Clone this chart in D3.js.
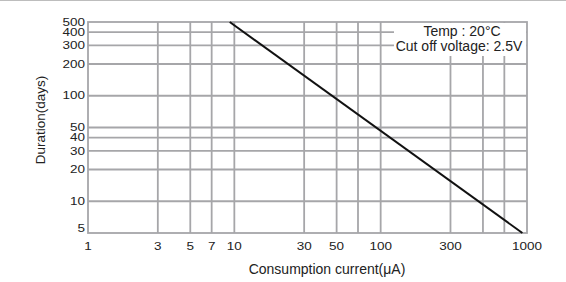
<!DOCTYPE html>
<html>
<head>
<meta charset="utf-8">
<script src="https://cdn.jsdelivr.net/npm/d3@7.9.0/dist/d3.min.js"></script>
<style>
  body { margin: 0; background: #fff; }
  svg { display: block; font-family: "Liberation Sans", Arial, sans-serif; }
</style>
</head>
<body>
<svg id="chart" width="566" height="282"></svg>
<script>
// === Data ===
const currentUA = [9.3, 930];
const durationDays = [500, 5];
const xGrid = [3, 5, 7, 10, 30, 50, 70, 100, 300, 500, 700];
const xTickLabels = [1, 3, 5, 7, 10, 30, 50, 100, 300, 1000];
const yGrid = [10, 20, 30, 40, 50, 100, 200, 300, 400];
const yTickLabels = [500, 400, 300, 200, 100, 50, 40, 30, 20, 10, 5];
const notes = ['Temp : 20°C', 'Cut off voltage: 2.5V'];

const margin = { top: 22, right: 39, bottom: 49, left: 88 };
const W = 566, H = 282;
const w = W - margin.left - margin.right;
const h = H - margin.top - margin.bottom;
const gridColor = '#a6a6a9';
const squash = 0.78; // tick digits are wide and short in the original

const svg = d3.select('#chart');

// thin rule across the top of the image
svg.append('line')
  .attr('x1', 0).attr('x2', W).attr('y1', 0.5).attr('y2', 0.5)
  .attr('stroke', '#bdbdbd').attr('stroke-width', 1);

const g = svg.append('g').attr('transform', `translate(${margin.left},${margin.top})`);

const x = d3.scaleLog().domain([1, 1000]).range([0, w]);
const y = d3.scaleLog().domain([5, 500]).range([h, 0]);

// === Grid ===
g.selectAll('.vgrid').data(xGrid).join('line')
  .attr('x1', d => x(d)).attr('x2', d => x(d))
  .attr('y1', 0).attr('y2', h)
  .attr('stroke', gridColor).attr('stroke-width', 1.8);

g.selectAll('.hgrid').data(yGrid).join('line')
  .attr('x1', 0).attr('x2', w)
  .attr('y1', d => y(d)).attr('y2', d => y(d))
  .attr('stroke', gridColor).attr('stroke-width', 1.8);

// white box for the notes (hides grid behind it)
g.append('rect')
  .attr('x', 306).attr('y', 1)
  .attr('width', w - 306 - 1).attr('height', 33)
  .attr('fill', '#fff');

g.append('rect')
  .attr('x', 0).attr('y', 0).attr('width', w).attr('height', h)
  .attr('fill', 'none').attr('stroke', gridColor).attr('stroke-width', 1.8);

// === Data line ===
const pts = currentUA.map((c, i) => [c, durationDays[i]]);
g.append('path')
  .datum(pts)
  .attr('d', d3.line().x(d => x(d[0])).y(d => y(d[1])))
  .attr('fill', 'none').attr('stroke', '#111').attr('stroke-width', 2);

// === Tick labels ===
g.selectAll('.xl').data(xTickLabels).join('text')
  .attr('transform', d => `translate(${x(d)},${h + 17}) scale(1,${squash})`)
  .attr('text-anchor', 'middle')
  .attr('font-size', 13.5).attr('fill', '#222')
  .text(d => d);

g.selectAll('.yl').data(yTickLabels).join('text')
  .attr('transform', d => `translate(-3,${y(d) + (d === 5 ? -5 : 0)}) scale(1,${squash})`)
  .attr('dy', '0.35em')
  .attr('text-anchor', 'end')
  .attr('font-size', 13.5).attr('fill', '#222')
  .text(d => d);

// === Notes ===
g.append('text')
  .attr('x', 374).attr('y', 14)
  .attr('text-anchor', 'middle')
  .attr('font-size', 14).attr('fill', '#222')
  .text(notes[0]);
g.append('text')
  .attr('x', 371).attr('y', 29)
  .attr('text-anchor', 'middle')
  .attr('font-size', 14).attr('fill', '#222')
  .text(notes[1]);

// === Axis titles ===
svg.append('text')
  .attr('x', 327).attr('y', 274)
  .attr('text-anchor', 'middle')
  .attr('font-size', 14).attr('fill', '#222')
  .text('Consumption current(μA)');

svg.append('text')
  .attr('transform', 'translate(45,120) rotate(-90)')
  .attr('text-anchor', 'middle')
  .attr('font-size', 13.5).attr('fill', '#222')
  .text('Duration(days)');
</script>
</body>
</html>
